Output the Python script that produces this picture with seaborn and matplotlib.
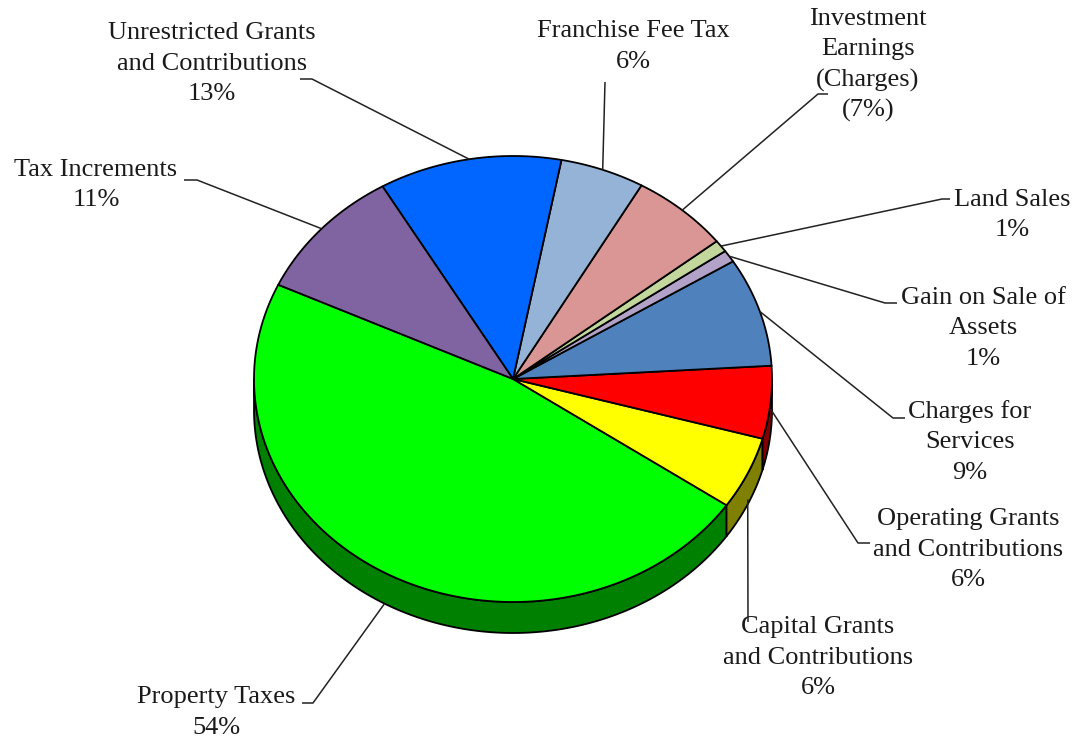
import numpy as np
import matplotlib
matplotlib.use("Agg")
import matplotlib.pyplot as plt
import seaborn as sns

# Revenue sources (share of net revenues, %); investment earnings were a net charge
categories = [
    "Property Taxes",
    "Capital Grants\nand Contributions",
    "Operating Grants\nand Contributions",
    "Charges for\nServices",
    "Gain on Sale of\nAssets",
    "Land Sales",
    "Investment\nEarnings\n(Charges)",
    "Franchise Fee Tax",
    "Unrestricted Grants\nand Contributions",
    "Tax Increments",
]
shares = [54, 6, 6, 9, 1, 1, -7, 6, 13, 11]
face_hex = ["#00FF00", "#FFFF00", "#FF0000", "#4F81BD", "#B3A2C7",
            "#C3D69B", "#D99694", "#95B3D7", "#0066FF", "#8064A2"]

# Label placement: text centre x / first-line y, leader elbow and stub end
label_xy = [(216, 697), (818, 627), (968, 519), (970, 412), (983, 298),
            (1012, 200), (868, 19), (633, 31), (212, 33), (96, 170)]
elbow_xy = [(313, 703), (748, 622), (858, 543), (893, 418), (885, 303),
            (942, 199), (818, 94), (605, 82), (312, 79), (197, 180)]
stub_xy = [(302, 703), None, (870, 543), (905, 418), (897, 303),
           (950, 199), (828, 94), None, (300, 79), (184, 180)]

sns.set_theme(style="white")
plt.rcParams["font.family"] = ["Liberation Serif", "DejaVu Serif"]

faces = sns.color_palette(face_hex)
sides = [tuple(c * 0.5 for c in col) for col in faces]

W, H = 1082, 741
fig = plt.figure(figsize=(W / 100, H / 100), dpi=100)
ax = fig.add_axes([0, 0, 1, 1])
ax.set_xlim(0, W)
ax.set_ylim(H, 0)
ax.set_axis_off()

# Tilted pie geometry (axes units are pixels, y grows downward)
cx, cy = 513, 379
rx, ry = 259, 223
depth = 31
start = 155.0

sizes = np.abs(np.array(shares, dtype=float))
spans = sizes / sizes.sum() * 360.0
edges = start + np.concatenate([[0], np.cumsum(spans)])


def arc(a0, a1, dy=0.0):
    t = np.radians(np.linspace(a0, a1, max(2, int(abs(a1 - a0) * 2) + 2)))
    return cx + rx * np.cos(t), cy - ry * np.sin(t) + dy


# Side walls on the front half of the pie
for i in range(len(shares)):
    a0, a1 = edges[i], edges[i + 1]
    for lo, hi in [(180, 360), (540, 720)]:
        s0, s1 = max(a0, lo), min(a1, hi)
        if s1 > s0:
            xt, yt = arc(s0, s1)
            xb, yb = arc(s1, s0, depth)
            ax.fill(np.concatenate([xt, xb]), np.concatenate([yt, yb]),
                    facecolor=sides[i], edgecolor="black", lw=1.3,
                    joinstyle="round", zorder=1)

# Top faces
for i in range(len(shares)):
    xa, ya = arc(edges[i], edges[i + 1])
    ax.fill(np.concatenate([[cx], xa]), np.concatenate([[cy], ya]),
            facecolor=faces[i], edgecolor="black", lw=1.3,
            joinstyle="round", zorder=2)

# Leader lines and labels
pitch = 30.5
for i, (name, v) in enumerate(zip(categories, shares)):
    m = np.radians((edges[i] + edges[i + 1]) / 2)
    ax_x = cx + rx * np.cos(m)
    ax_y = cy - ry * np.sin(m)
    if np.sin(m) < 0:
        ax_y += depth * min(1.0, -2 * np.sin(m))
    px = [ax_x, elbow_xy[i][0]]
    py = [ax_y, elbow_xy[i][1]]
    if stub_xy[i] is not None:
        px.append(stub_xy[i][0])
        py.append(stub_xy[i][1])
    ax.plot(px, py, color="#222222", lw=1.1, zorder=3,
            solid_capstyle="butt")

    pct = f"{v}%" if v >= 0 else f"({-v}%)"
    lines = name.split("\n") + [pct]
    tx, ty = label_xy[i]
    for k, line in enumerate(lines):
        ax.text(tx, ty + k * pitch, line, ha="center", va="center",
                fontsize=19, color="#1a1a1a", zorder=4)

fig.savefig("out.png", dpi=100)
